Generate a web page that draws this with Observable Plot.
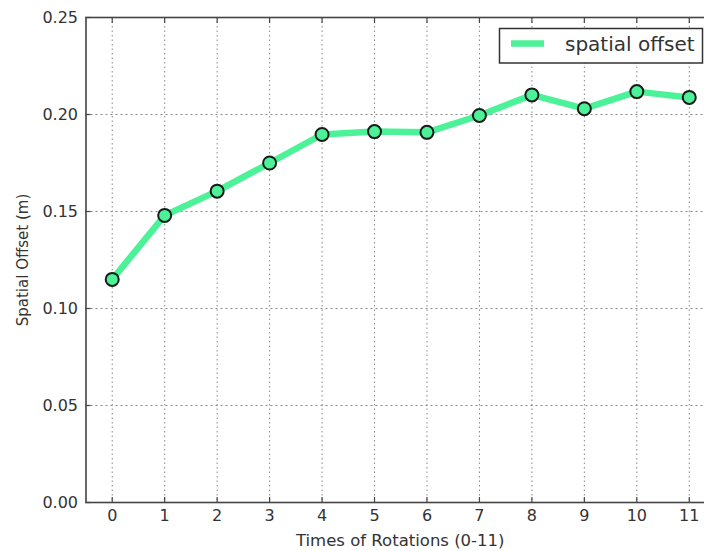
<!DOCTYPE html>
<html>
<head>
<meta charset="utf-8">
<script src="https://cdn.jsdelivr.net/npm/d3@7"></script>
<script src="https://cdn.jsdelivr.net/npm/@observablehq/plot@0.6"></script>
<style>
  html, body { margin: 0; padding: 0; background: #fff; overflow: hidden; }
  #chart { width: 704px; height: 551px; overflow: hidden; }
  #chart svg { display: block; font-family: "DejaVu Sans", sans-serif; max-width: none !important; }
  #chart svg g[aria-label="x-axis tick label"] text,
  #chart svg g[aria-label="y-axis tick label"] text { font-size: 16px; font-family: "DejaVu Sans", sans-serif; }
</style>
</head>
<body>
<div id="chart"></div>
<script>
// Spatial offset measured after each rotation
const rotations = [0, 1, 2, 3, 4, 5, 6, 7, 8, 9, 10, 11];
const offsets = [0.115, 0.148, 0.1605, 0.175, 0.1897, 0.1912, 0.1908, 0.1995, 0.2101, 0.203, 0.2118, 0.2088];
const yTicks = [0, 0.05, 0.10, 0.15, 0.20, 0.25];
const seriesName = "spatial offset";

const lineColor = "#4cf297";
const data = rotations.map((r, i) => ({r, v: offsets[i]}));

const W = 716, H = 551;
const ml = 85.5, mr = 1, mt = 17, mb = 49;

const tickStyle = {stroke: "#444", strokeWidth: 1.2, tickFormat: () => "", label: null, tickSize: 5};

const plot = Plot.plot({
  width: W,
  height: H,
  marginLeft: ml,
  marginRight: mr,
  marginTop: mt,
  marginBottom: mb,
  style: {fontFamily: "DejaVu Sans", fontSize: "16px", color: "#333", background: "#fff", maxWidth: "none"},
  x: {domain: [-0.5, 11.5]},
  y: {domain: [0, 0.25]},
  marks: [
    Plot.gridX(rotations, {stroke: "#888", strokeOpacity: 1, strokeWidth: 1, strokeDasharray: "1.5,3"}),
    Plot.gridY(yTicks, {stroke: "#888", strokeOpacity: 1, strokeWidth: 1, strokeDasharray: "2,3"}),
    // inward tick marks on the bottom, top and left edges
    Plot.axisX(rotations, {...tickStyle, anchor: "bottom", dy: -5}),
    Plot.axisX(rotations, {...tickStyle, anchor: "top", dy: 5}),
    Plot.axisY(yTicks, {...tickStyle, anchor: "left", dx: 5}),
    // tick labels
    Plot.axisX(rotations, {anchor: "bottom", tickSize: 0, tickPadding: 7, label: null, fontSize: 16, fill: "#333"}),
    Plot.axisY(yTicks, {anchor: "left", tickSize: 0, tickPadding: 8, label: null, fontSize: 16, fill: "#333", tickFormat: d3.format(".2f")}),
    Plot.frame({stroke: "#444", strokeWidth: 1.6}),
    Plot.line(data, {x: "r", y: "v", stroke: lineColor, strokeWidth: 6.5, strokeLinejoin: "round", strokeLinecap: "butt"}),
    Plot.dot(data, {x: "r", y: "v", r: 6.5, fill: lineColor, stroke: "#1a1a1a", strokeWidth: 2})
  ]
});

plot.style.maxWidth = "none";
plot.style.width = W + "px";
plot.style.height = H + "px";

const svg = d3.select(plot);

// axis titles
svg.append("text")
  .attr("x", (ml + W - mr) / 2).attr("y", 546)
  .attr("text-anchor", "middle")
  .attr("font-size", 16.5).attr("fill", "#333")
  .text("Times of Rotations (0-11)");

svg.append("text")
  .attr("transform", `translate(28, 260) rotate(-90)`)
  .attr("text-anchor", "middle")
  .attr("font-size", 15).attr("fill", "#333")
  .text("Spatial Offset (m)");

// legend box
const lg = svg.append("g");
lg.append("rect")
  .attr("x", 499.5).attr("y", 28.5).attr("width", 203).attr("height", 34.5)
  .attr("fill", "#fff").attr("stroke", "#333").attr("stroke-width", 1.5);
lg.append("line")
  .attr("x1", 511).attr("x2", 544).attr("y1", 43.5).attr("y2", 43.5)
  .attr("stroke", lineColor).attr("stroke-width", 6.5);
lg.append("text")
  .attr("x", 565).attr("y", 51)
  .attr("text-anchor", "start")
  .attr("font-size", 20).attr("fill", "#333")
  .text(seriesName);

document.getElementById("chart").appendChild(plot);
</script>
</body>
</html>
